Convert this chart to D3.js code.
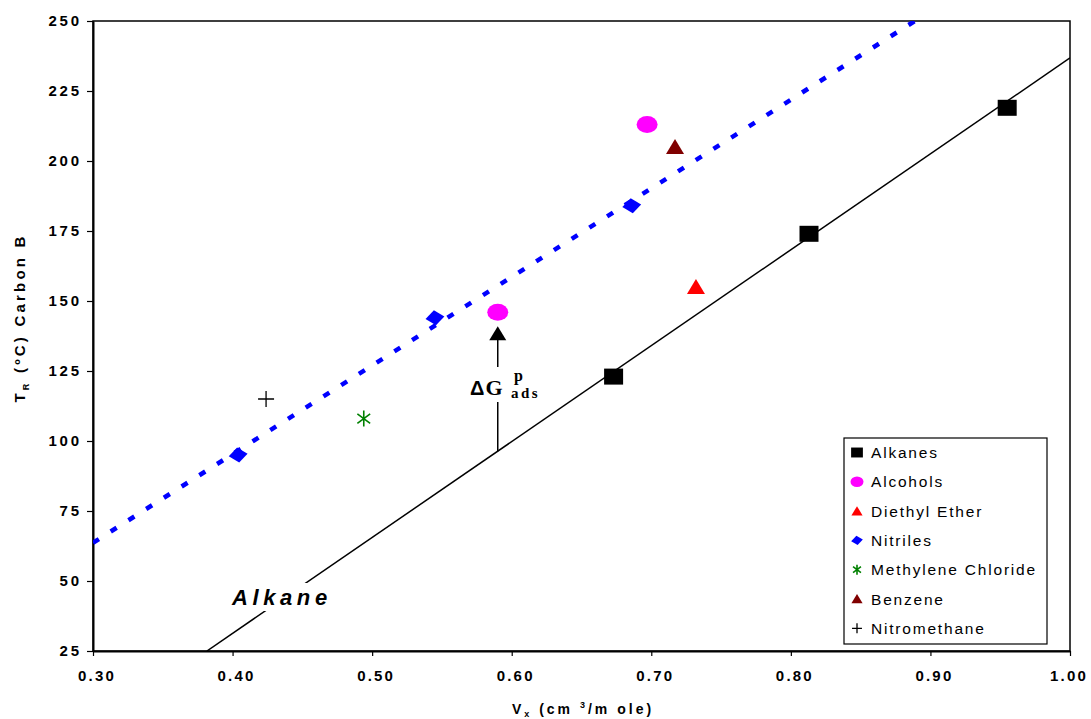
<!DOCTYPE html>
<html><head><meta charset="utf-8">
<script src="https://cdn.jsdelivr.net/npm/d3@7"></script>
<style>
body{margin:0;background:#fff;}
svg{display:block;}
text{font-family:"Liberation Sans",Arial,sans-serif;}
</style></head>
<body>
<svg id="chart" width="1091" height="719"></svg>
<script>
// ---- data ----
const xTicks = [0.30, 0.40, 0.50, 0.60, 0.70, 0.80, 0.90, 1.00];
const yTicks = [25, 50, 75, 100, 125, 150, 175, 200, 225, 250];
const seriesNames = ["Alkanes", "Alcohols", "Diethyl Ether", "Nitriles", "Methylene Chloride", "Benzene", "Nitromethane"];
const alkanesX = [0.673, 0.813, 0.955];
const alkanesY = [123, 174, 219];
const alcoholsX = [0.590, 0.697];
const alcoholsY = [146, 213];
const etherX = [0.732];
const etherY = [155];
const nitrilesX = [0.404, 0.545, 0.686];
const nitrilesY = [95, 144, 184];
const methyleneX = [0.494];
const methyleneY = [108];
const benzeneX = [0.717];
const benzeneY = [205];
const nitromethaneX = [0.424];
const nitromethaneY = [115];
// fitted lines: y = slope * x + intercept
const alkaneFit = [342.5, -105.7];
const nitrileFit = [316.5, -31.3];
// arrow (Delta G ads) at Vx
const arrowX = [0.590];
const arrowTopY = [141];

// ---- layout ----
const svg = d3.select("#chart");
const L = 93, R = 1070, T = 21, B = 651;
const x = d3.scaleLinear().domain([0.30, 1.00]).range([L, R]);
const y = d3.scaleLinear().domain([25, 250]).range([B, T]);

svg.append("defs").append("clipPath").attr("id", "clip")
  .append("rect").attr("x", L).attr("y", T).attr("width", R - L).attr("height", B - T);

// plot border
svg.append("rect").attr("x", L).attr("y", T).attr("width", R - L).attr("height", B - T)
  .attr("fill", "none").attr("stroke", "#000").attr("stroke-width", 1.5);

// axes
const xAxis = d3.axisBottom(x).tickValues(xTicks).tickFormat(d3.format(".2f")).tickSize(5).tickSizeOuter(0);
const gx = svg.append("g").attr("transform", `translate(0,${B})`).call(xAxis);
gx.select(".domain").attr("stroke-width", 2);
gx.selectAll(".tick line").attr("stroke-width", 1.2);
gx.selectAll(".tick text").attr("y", 19).attr("dy", "0.71em").attr("dx", d => d >= 1 ? -1.5 : 3.5)
  .style("font-size", "15px").style("font-weight", "bold").style("letter-spacing", "2.2px").attr("fill", "#000");

const yAxis = d3.axisLeft(y).tickValues(yTicks).tickSize(6).tickSizeOuter(0);
const gy = svg.append("g").attr("transform", `translate(${L},0)`).call(yAxis);
gy.select(".domain").attr("stroke-width", 2);
gy.selectAll(".tick line").attr("stroke-width", 1.2);
gy.selectAll(".tick text").attr("x", -14).attr("dx", 2.8)
  .style("font-size", "15px").style("font-weight", "bold").style("letter-spacing", "2.8px").attr("fill", "#000");
svg.selectAll(".tick text").attr("font-family", null);

// axis titles
const yt = svg.append("text").attr("transform", "translate(25,318) rotate(-90)")
  .attr("text-anchor", "middle").style("font-size", "15px").style("font-weight", "bold").style("letter-spacing", "3.2px");
yt.append("tspan").text("T");
yt.append("tspan").attr("dy", 4).style("font-size", "9px").text("R");
yt.append("tspan").attr("dy", -4).text(" (ºC) Carbon B");

const xt = svg.append("text").attr("x", 583).attr("y", 714)
  .attr("text-anchor", "middle").style("font-size", "14px").style("font-weight", "bold").style("letter-spacing", "3px");
xt.append("tspan").text("V");
xt.append("tspan").attr("dy", 3).style("font-size", "9px").text("x");
xt.append("tspan").attr("dy", -3).text(" (cm ");
xt.append("tspan").attr("dy", -6).style("font-size", "9px").text("3");
xt.append("tspan").attr("dy", 6).text("/m ole)");

// fit lines
const plot = svg.append("g").attr("clip-path", "url(#clip)");
const fy = (f, v) => f[0] * v + f[1];
const alkX0 = (25 - alkaneFit[1]) / alkaneFit[0];
plot.append("line")
  .attr("x1", x(alkX0)).attr("y1", y(25)).attr("x2", x(1.0)).attr("y2", y(fy(alkaneFit, 1.0)))
  .attr("stroke", "#000").attr("stroke-width", 1.5);
const nitX1 = (250 - nitrileFit[1]) / nitrileFit[0];
plot.append("line")
  .attr("x1", x(0.30)).attr("y1", y(fy(nitrileFit, 0.30))).attr("x2", x(nitX1)).attr("y2", y(250))
  .attr("stroke", "#0000ff").attr("stroke-width", 4.5).attr("stroke-dasharray", "7,14");

// "Alkane" label
svg.append("rect").attr("x", 228).attr("y", 583).attr("width", 106).attr("height", 28).attr("fill", "#fff");
svg.append("text").attr("x", 232).attr("y", 605)
  .style("font-size", "22px").style("font-weight", "bold").style("font-style", "italic").style("letter-spacing", "4.6px")
  .text("Alkane");

// Delta G arrow
const ax = x(arrowX[0]);
const aBot = y(fy(alkaneFit, arrowX[0]));
const aTop = y(arrowTopY[0]);
svg.append("line").attr("x1", ax).attr("x2", ax).attr("y1", aBot).attr("y2", aTop + 12)
  .attr("stroke", "#000").attr("stroke-width", 1.5);
svg.append("path").attr("d", `M${ax},${aTop} L${ax - 8.5},${aTop + 14} L${ax + 8.5},${aTop + 14} Z`).attr("fill", "#000");
svg.append("rect").attr("x", 468).attr("y", 367).attr("width", 80).attr("height", 35).attr("fill", "#fff");
const dg = svg.append("text").attr("x", 470).attr("y", 395).style("font-weight", "bold");
dg.append("tspan").style("font-size", "20px").style("font-family", "'Liberation Sans',Arial,sans-serif").text("Δ");
dg.append("tspan").attr("dx", 1).style("font-size", "22px").style("font-family", "'Liberation Serif','Times New Roman',serif").text("G");
svg.append("text").attr("x", 514).attr("y", 381).style("font-size", "16px").style("font-weight", "bold")
  .style("font-family", "'Liberation Serif','Times New Roman',serif").text("p");
svg.append("text").attr("x", 511).attr("y", 398).style("font-size", "15px").style("font-weight", "bold").style("letter-spacing", "2.5px")
  .style("font-family", "'Liberation Serif','Times New Roman',serif").text("ads");

// marker shapes
function marker(g, type, cx, cy, s) {
  switch (type) {
    case "square":
      g.append("rect").attr("x", cx - 9.5 * s).attr("y", cy - 8 * s).attr("width", 19 * s).attr("height", 16 * s).attr("fill", "#000"); break;
    case "circle":
      g.append("ellipse").attr("cx", cx).attr("cy", cy).attr("rx", 10.5 * s).attr("ry", 8.5 * s).attr("fill", "#ff00ff"); break;
    case "tri":
    case "tri2":
      g.append("path").attr("d", `M${cx},${cy - 8 * s} L${cx - 9 * s},${cy + 7 * s} L${cx + 9 * s},${cy + 7 * s} Z`)
        .attr("fill", type === "tri" ? "#ff0000" : "#800000"); break;
    case "diamond":
      g.append("path").attr("d", `M${cx},${cy - 7.5 * s} L${cx + 9.5 * s},${cy} L${cx},${cy + 7.5 * s} L${cx - 9.5 * s},${cy} Z`)
        .attr("fill", "#0000ff").attr("transform", `rotate(-8,${cx},${cy})`); break;
    case "star": {
      const r = 8 * s, d = r * 0.8;
      g.append("path").attr("d", `M${cx},${cy - r} L${cx},${cy + r} M${cx - d},${cy - d * 0.75} L${cx + d},${cy + d * 0.75} M${cx - d},${cy + d * 0.75} L${cx + d},${cy - d * 0.75}`)
        .attr("stroke", "#008000").attr("stroke-width", 1.6).attr("fill", "none"); break;
    }
    case "plus": {
      const r = 8 * s;
      g.append("path").attr("d", `M${cx},${cy - r} L${cx},${cy + r} M${cx - r},${cy} L${cx + r},${cy}`)
        .attr("stroke", "#000").attr("stroke-width", 1.3).attr("fill", "none"); break;
    }
  }
}

const series = [
  { xs: alkanesX, ys: alkanesY, type: "square" },
  { xs: alcoholsX, ys: alcoholsY, type: "circle" },
  { xs: etherX, ys: etherY, type: "tri" },
  { xs: nitrilesX, ys: nitrilesY, type: "diamond" },
  { xs: methyleneX, ys: methyleneY, type: "star" },
  { xs: benzeneX, ys: benzeneY, type: "tri2" },
  { xs: nitromethaneX, ys: nitromethaneY, type: "plus" }
];
const pts = svg.append("g");
series.forEach(s => s.xs.forEach((v, i) => marker(pts, s.type, x(v), y(s.ys[i]), 1)));

// legend
const lg = svg.append("g");
lg.append("rect").attr("x", 844).attr("y", 438).attr("width", 203).attr("height", 206)
  .attr("fill", "#fff").attr("stroke", "#000").attr("stroke-width", 1.2);
series.forEach((s, i) => {
  const cy = 452.5 + i * 29.3;
  marker(lg, s.type, 857, cy, 0.62);
  lg.append("text").attr("x", 871).attr("y", cy + 5.5)
    .style("font-size", "15.5px").style("letter-spacing", "1.8px").text(seriesNames[i]);
});
</script>
</body></html>
